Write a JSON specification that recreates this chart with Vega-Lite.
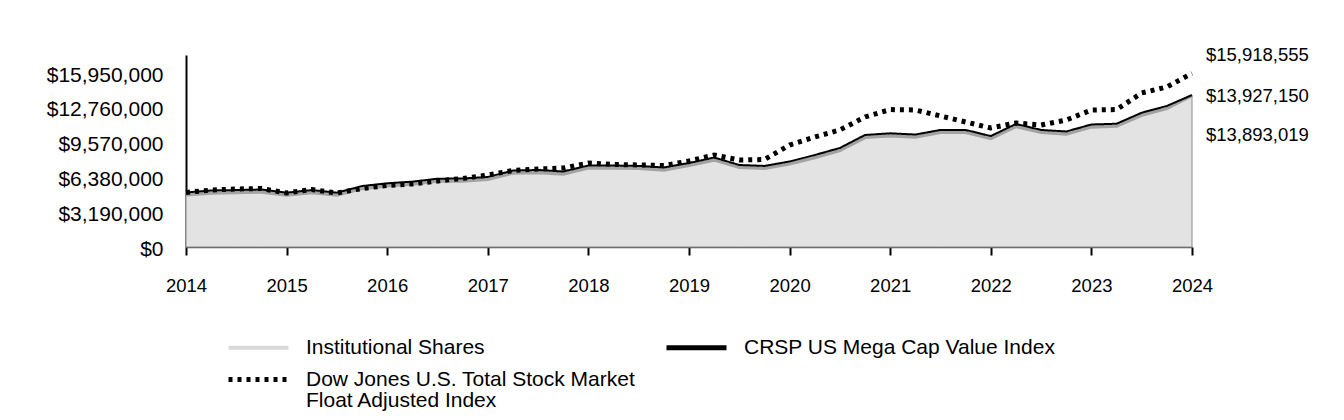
{
  "$schema": "https://vega.github.io/schema/vega-lite/v6.json",
  "autosize": {"type": "none"},
  "width": 1006,
  "height": 192,
  "padding": {"left": 186, "top": 55, "right": 152, "bottom": 173},
  "background": "white",
  "config": {
    "view": {"stroke": null},
    "font": "Liberation Sans",
    "axis": {"labelFont": "Liberation Sans", "labelColor": "#000", "grid": false, "title": null, "labelOverlap": false}
  },
  "data": {
    "values": [
      {"year": 2014.00, "inst": 4780000, "crsp": 5000000, "dj": 5000000},
      {"year": 2014.25, "inst": 4960000, "crsp": 5180000, "dj": 5220000},
      {"year": 2014.50, "inst": 5000000, "crsp": 5220000, "dj": 5320000},
      {"year": 2014.75, "inst": 5050000, "crsp": 5270000, "dj": 5360000},
      {"year": 2015.00, "inst": 4760000, "crsp": 4980000, "dj": 4950000},
      {"year": 2015.25, "inst": 5000000, "crsp": 5220000, "dj": 5270000},
      {"year": 2015.50, "inst": 4760000, "crsp": 4980000, "dj": 4950000},
      {"year": 2015.75, "inst": 5370000, "crsp": 5590000, "dj": 5360000},
      {"year": 2016.00, "inst": 5620000, "crsp": 5840000, "dj": 5640000},
      {"year": 2016.25, "inst": 5770000, "crsp": 5990000, "dj": 5780000},
      {"year": 2016.50, "inst": 6040000, "crsp": 6260000, "dj": 6050000},
      {"year": 2016.75, "inst": 6060000, "crsp": 6280000, "dj": 6280000},
      {"year": 2017.00, "inst": 6200000, "crsp": 6420000, "dj": 6600000},
      {"year": 2017.25, "inst": 6790000, "crsp": 7010000, "dj": 7010000},
      {"year": 2017.50, "inst": 6840000, "crsp": 7060000, "dj": 7150000},
      {"year": 2017.75, "inst": 6700000, "crsp": 6920000, "dj": 7240000},
      {"year": 2018.00, "inst": 7250000, "crsp": 7470000, "dj": 7700000},
      {"year": 2018.25, "inst": 7250000, "crsp": 7470000, "dj": 7560000},
      {"year": 2018.50, "inst": 7210000, "crsp": 7430000, "dj": 7520000},
      {"year": 2018.75, "inst": 7070000, "crsp": 7290000, "dj": 7470000},
      {"year": 2019.00, "inst": 7480000, "crsp": 7700000, "dj": 7880000},
      {"year": 2019.25, "inst": 7980000, "crsp": 8200000, "dj": 8430000},
      {"year": 2019.50, "inst": 7300000, "crsp": 7520000, "dj": 7980000},
      {"year": 2019.75, "inst": 7210000, "crsp": 7430000, "dj": 8020000},
      {"year": 2020.00, "inst": 7620000, "crsp": 7840000, "dj": 9350000},
      {"year": 2020.25, "inst": 8210000, "crsp": 8430000, "dj": 10080000},
      {"year": 2020.50, "inst": 8860000, "crsp": 9080000, "dj": 10730000},
      {"year": 2020.75, "inst": 10050000, "crsp": 10270000, "dj": 11920000},
      {"year": 2021.00, "inst": 10200000, "crsp": 10420000, "dj": 12600000},
      {"year": 2021.25, "inst": 10090000, "crsp": 10310000, "dj": 12560000},
      {"year": 2021.50, "inst": 10510000, "crsp": 10730000, "dj": 12010000},
      {"year": 2021.75, "inst": 10510000, "crsp": 10730000, "dj": 11460000},
      {"year": 2022.00, "inst": 9950000, "crsp": 10170000, "dj": 10910000},
      {"year": 2022.25, "inst": 11060000, "crsp": 11280000, "dj": 11370000},
      {"year": 2022.50, "inst": 10510000, "crsp": 10730000, "dj": 11180000},
      {"year": 2022.75, "inst": 10370000, "crsp": 10590000, "dj": 11640000},
      {"year": 2023.00, "inst": 11010000, "crsp": 11230000, "dj": 12560000},
      {"year": 2023.25, "inst": 11080000, "crsp": 11300000, "dj": 12600000},
      {"year": 2023.50, "inst": 12090000, "crsp": 12310000, "dj": 14120000},
      {"year": 2023.75, "inst": 12710000, "crsp": 12930000, "dj": 14670000},
      {"year": 2024.00, "inst": 13893019, "crsp": 13927150, "dj": 15918555}
    ]
  },
  "encoding": {
    "x": {
      "field": "year", "type": "quantitative",
      "scale": {"domain": [2014, 2024], "nice": false, "zero": false},
      "axis": {
        "values": [2014, 2015, 2016, 2017, 2018, 2019, 2020, 2021, 2022, 2023, 2024],
        "tickCount": 20,
        "format": "d", "labelFontSize": 18.5, "labelPadding": 21, "labelOverlap": false,
        "tickSize": 8, "tickWidth": 2, "tickColor": "#000",
        "domainColor": "#555", "domainWidth": 1.5, "labelFlush": false
      }
    }
  },
  "layer": [
    {
      "mark": {"type": "area", "fill": "#e3e3e3", "stroke": "#8a8a8a", "strokeWidth": 1},
      "encoding": {
        "y": {
          "field": "inst", "type": "quantitative",
          "scale": {"domain": [0, 17600000], "nice": false},
          "axis": {
            "values": [0, 3190000, 6380000, 9570000, 12760000, 15950000],
            "tickCount": 10, "labelOffset": 2,
            "format": "$,.0f", "labelFontSize": 21, "labelPadding": 23, "labelOverlap": false,
            "ticks": false, "domainColor": "#000", "domainWidth": 2
          }
        }
      }
    },
    {
      "mark": {"type": "line", "strokeWidth": 3.5, "stroke": "#a3a3a3"},
      "encoding": {
        "y": {"field": "inst", "type": "quantitative"}
      }
    },
    {
      "transform": [{"fold": ["crsp"], "as": ["series", "value"]}],
      "mark": {"type": "line", "strokeWidth": 2},
      "encoding": {
        "y": {"field": "value", "type": "quantitative"},
        "stroke": {
          "field": "series", "type": "nominal",
          "scale": {"domain": ["inst", "crsp", "dj"], "range": ["#d9d9d9", "#000000", "#000000"]},
          "legend": {
            "values": ["inst", "crsp", "dj"],
            "orient": "none", "legendX": 42, "legendY": 282, "direction": "horizontal",
            "columns": 2, "columnPadding": 20, "rowPadding": 10,
            "title": null, "symbolType": "stroke", "symbolSize": 3600,
            "symbolOffset": 20,
            "symbolStrokeWidth": 5, "labelFontSize": 21, "labelFont": "Liberation Sans",
            "labelColor": "#000", "labelOffset": 37, "labelLimit": 0,
            "labelExpr": "datum.value === 'inst' ? 'Institutional Shares' : datum.value === 'crsp' ? 'CRSP US Mega Cap Value Index' : ['Dow Jones U.S. Total Stock Market', 'Float Adjusted Index']",
            "encode": {
              "symbols": {
                "update": {
                  "strokeWidth": {"signal": "datum.value === 'inst' ? 4 : 5"}
                }
              },
              "labels": {"update": {"lineHeight": {"value": 21}}}
            }
          }
        },
        "strokeDash": {
          "field": "series", "type": "nominal",
          "scale": {"domain": ["inst", "crsp", "dj"], "range": [[1, 0], [1, 0], [4, 5]]}
        }
      }
    },
    {
      "transform": [{"fold": ["dj"], "as": ["series", "value"]}],
      "mark": {"type": "line", "strokeWidth": 5},
      "encoding": {
        "y": {"field": "value", "type": "quantitative"},
        "stroke": {"field": "series", "type": "nominal"},
        "strokeDash": {"field": "series", "type": "nominal"}
      }
    },
    {
      "transform": [{"filter": "datum.year === 2024"}],
      "mark": {"type": "text", "align": "left", "baseline": "middle", "dx": 14, "dy": -18, "fontSize": 18.5, "font": "Liberation Sans", "color": "#000"},
      "encoding": {
        "y": {"field": "dj", "type": "quantitative"},
        "text": {"field": "dj", "type": "quantitative", "format": "$,.0f"}
      }
    },
    {
      "transform": [{"filter": "datum.year === 2024"}],
      "mark": {"type": "text", "align": "left", "baseline": "middle", "dx": 14, "dy": 1, "fontSize": 18.5, "font": "Liberation Sans", "color": "#000"},
      "encoding": {
        "y": {"field": "crsp", "type": "quantitative"},
        "text": {"field": "crsp", "type": "quantitative", "format": "$,.0f"}
      }
    },
    {
      "transform": [{"filter": "datum.year === 2024"}],
      "mark": {"type": "text", "align": "left", "baseline": "middle", "dx": 14, "dy": 40, "fontSize": 18.5, "font": "Liberation Sans", "color": "#000"},
      "encoding": {
        "y": {"field": "inst", "type": "quantitative"},
        "text": {"field": "inst", "type": "quantitative", "format": "$,.0f"}
      }
    }
  ]
}
